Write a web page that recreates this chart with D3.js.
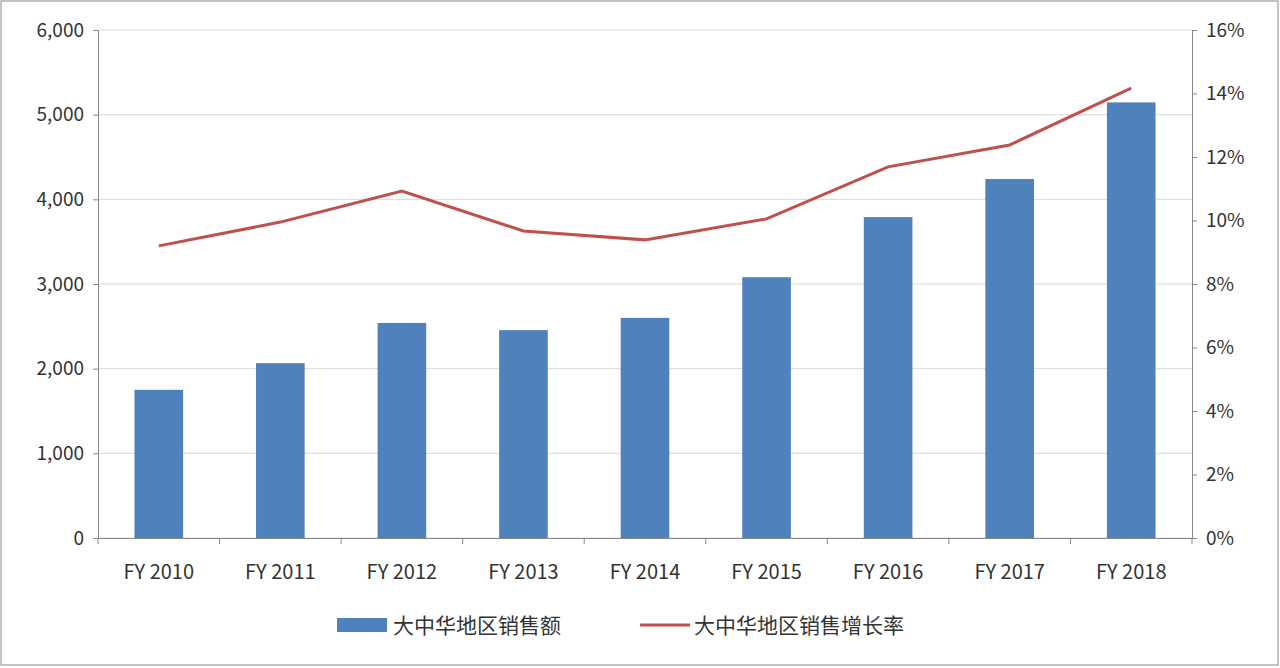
<!DOCTYPE html>
<html><head><meta charset="utf-8">
<script src="https://cdn.jsdelivr.net/npm/d3@7"></script>
<style>body{margin:0;background:#fff}text{font-family:"Noto Sans CJK SC","Liberation Sans",sans-serif}</style>
</head><body><svg id="c" width="1280" height="668"></svg>
<script>
const categories=["FY 2010","FY 2011","FY 2012","FY 2013","FY 2014","FY 2015","FY 2016","FY 2017","FY 2018"];
const sales=[1750,2065,2540,2455,2600,3080,3790,4240,5145];
const growth=[9.2,9.95,10.93,9.67,9.39,10.05,11.69,12.38,14.17];
const leftTicks=[0,1000,2000,3000,4000,5000,6000];
const rightTicks=[0,2,4,6,8,10,12,14,16];
const svg=d3.select("#c");
svg.append("rect").attr("x",1).attr("y",1).attr("width",1277).attr("height",664).attr("fill","#fff").attr("stroke","#888");
const L=98,R=1192,T=30,B=538;
const x=d3.scaleBand().domain(categories).range([L,R]).paddingInner(0.6).paddingOuter(0.3);
const y=d3.scaleLinear().domain([0,6000]).range([B,T]);
const y2=d3.scaleLinear().domain([0,16]).range([B,T]);
svg.append("g").selectAll("line").data(leftTicks).join("line").attr("x1",L).attr("x2",R).attr("y1",d=>y(d)).attr("y2",d=>y(d)).attr("stroke","#d9d9d9");
const ga=svg.append("g").attr("transform",`translate(${L},0)`).call(d3.axisLeft(y).tickValues(leftTicks).tickFormat(d3.format(",")).tickSize(5));
const gb=svg.append("g").attr("transform",`translate(${R},0)`).call(d3.axisRight(y2).tickValues(rightTicks).tickFormat(d=>d+"%").tickSize(5));
const gx=svg.append("g").attr("transform",`translate(0,${B})`).call(d3.axisBottom(x).tickSize(0).tickPadding(27));
svg.append("g").selectAll("line").data(d3.range(categories.length+1)).join("line")
 .attr("x1",i=>L+i*(R-L)/categories.length).attr("x2",i=>L+i*(R-L)/categories.length).attr("y1",B).attr("y2",B+6).attr("stroke","#888");
[ga,gb,gx].forEach(g=>{g.selectAll("path,line").attr("stroke","#888");g.selectAll("text").attr("font-size",19).attr("fill","#333");});
gx.selectAll("text").attr("font-size",20);
ga.selectAll("text").attr("dx",-6);gb.selectAll("text").attr("dx",6);
svg.append("g").selectAll("rect").data(sales).join("rect").attr("x",(d,i)=>x(categories[i])).attr("width",x.bandwidth())
 .attr("y",d=>y(d)).attr("height",d=>B-y(d)).attr("fill","#4f81bd");
svg.append("path").datum(growth).attr("fill","none").attr("stroke","#c0504d").attr("stroke-width",3)
 .attr("d",d3.line().x((d,i)=>x(categories[i])+x.bandwidth()/2).y(d=>y2(d)));
const lg=svg.append("g").attr("fill","#333");
lg.append("rect").attr("x",337).attr("y",618).attr("width",50).attr("height",14).attr("fill","#4f81bd");
lg.append("text").attr("x",393).attr("y",633).text("大中华地区销售额").attr("font-size",21);
lg.append("line").attr("x1",640).attr("x2",690).attr("y1",625).attr("y2",625).attr("stroke","#c0504d").attr("stroke-width",3);
lg.append("text").attr("x",694).attr("y",633).text("大中华地区销售增长率").attr("font-size",21);
</script></body></html>
